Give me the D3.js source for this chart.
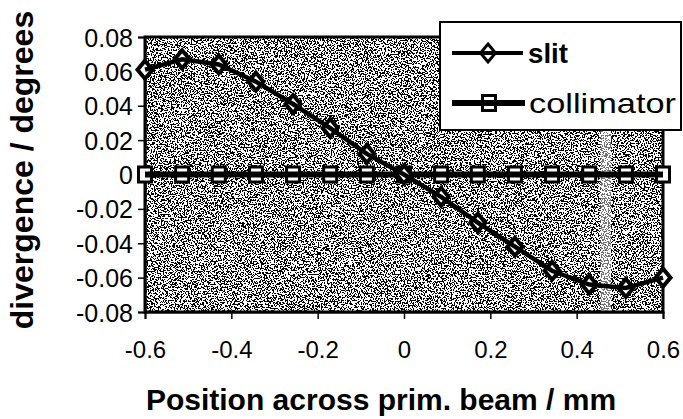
<!DOCTYPE html>
<html>
<head>
<meta charset="utf-8">
<script src="https://cdn.jsdelivr.net/npm/d3@7"></script>
<style>
  html, body { margin: 0; padding: 0; background: #fff; }
  svg { display: block; }
  text { font-family: "Liberation Sans", Arial, Helvetica, sans-serif; fill: #000; }
</style>
</head>
<body>
<svg id="chart" width="683" height="419"></svg>
<script>
// ---- data ----
const positions = [-0.6, -0.514, -0.429, -0.343, -0.257, -0.171, -0.086, 0, 0.086, 0.171, 0.257, 0.343, 0.429, 0.514, 0.6];
const slit = [0.061, 0.067, 0.064, 0.054, 0.041, 0.027, 0.012, 0, -0.013, -0.028, -0.042, -0.056, -0.064, -0.066, -0.060];
const collimator = [0, 0, 0, 0, 0, 0, 0, 0, 0, 0, 0, 0, 0, 0, 0];
const seriesNames = ["slit", "collimator"];
const xTicks = [-0.6, -0.4, -0.2, 0, 0.2, 0.4, 0.6];
const yTicks = [0.08, 0.06, 0.04, 0.02, 0, -0.02, -0.04, -0.06, -0.08];
const xTitle = "Position across prim. beam / mm";
const yTitle = "divergence / degrees";

// ---- layout ----
const svg = d3.select("#chart");
const plot = { left: 145, right: 663, top: 37, bottom: 312 };
const x = d3.scaleLinear().domain([-0.6, 0.6]).range([plot.left, plot.right]);
const y = d3.scaleLinear().domain([-0.08, 0.08]).range([plot.bottom, plot.top]);

// stippled background filter (scanned halftone look)
const defs = svg.append("defs");
const f = defs.append("filter").attr("id", "stipple")
  .attr("x", 0).attr("y", 0).attr("width", "100%").attr("height", "100%")
  .attr("color-interpolation-filters", "sRGB");
f.append("feTurbulence").attr("type", "fractalNoise").attr("baseFrequency", 0.7)
  .attr("numOctaves", 2).attr("seed", 7).attr("result", "n");
f.append("feColorMatrix").attr("type", "matrix")
  .attr("values", "1 0 0 0 0  1 0 0 0 0  1 0 0 0 0  0 0 0 0 1").attr("result", "g");
const table = d3.range(100).map(i => (i < 48 ? 0 : 1)).join(" ");
const ct = f.append("feComponentTransfer").attr("in", "g");
["R", "G", "B"].forEach(c => ct.append("feFunc" + c).attr("type", "discrete").attr("tableValues", table));

svg.append("rect")
  .attr("x", plot.left).attr("y", plot.top)
  .attr("width", plot.right - plot.left).attr("height", plot.bottom - plot.top)
  .attr("fill", "#888").attr("filter", "url(#stipple)");

// light scan streak in the reference background
svg.append("rect")
  .attr("x", x(0.455)).attr("y", plot.top)
  .attr("width", x(0.48) - x(0.455)).attr("height", plot.bottom - plot.top)
  .attr("fill", "#fff").attr("opacity", 0.45);

// frame
svg.append("rect")
  .attr("x", plot.left).attr("y", plot.top)
  .attr("width", plot.right - plot.left).attr("height", plot.bottom - plot.top)
  .attr("fill", "none").attr("stroke", "#000").attr("stroke-width", 3);

// axes
const yAxis = d3.axisLeft(y).tickValues(yTicks).tickSize(7).tickPadding(5)
  .tickFormat(d => d === 0 ? "0" : d3.format(".2f")(d).replace("−", "-"));
const gy = svg.append("g").attr("transform", `translate(${plot.left},0)`).call(yAxis);
gy.select(".domain").attr("stroke-width", 2);
gy.selectAll(".tick line").attr("stroke-width", 1.5);
gy.selectAll("text").style("font-size", "25px").attr("dy", "0.36em");

const xAxis = d3.axisBottom(x).tickValues(xTicks).tickSize(7).tickPadding(22)
  .tickFormat(d => d === 0 ? "0" : d3.format(".1f")(d).replace("−", "-"));
const gx = svg.append("g").attr("transform", `translate(0,${plot.bottom})`).call(xAxis);
gx.select(".domain").attr("stroke-width", 2);
gx.selectAll(".tick line").attr("stroke-width", 1.5);
gx.selectAll("text").style("font-size", "24px");

// titles
svg.append("text").attr("x", 381).attr("y", 410)
  .attr("text-anchor", "middle").style("font-size", "30px").style("font-weight", "bold")
  .text(xTitle);
svg.append("text").attr("transform", "translate(33,170) rotate(-90)")
  .attr("text-anchor", "middle").style("font-size", "32px").style("font-weight", "bold")
  .text(yTitle);

// series
const diamond = (cx, cy, w, h) => `M${cx},${cy - h}L${cx + w},${cy}L${cx},${cy + h}L${cx - w},${cy}Z`;
const line = d3.line().x(d => x(d[0])).y(d => y(d[1]));
const collPts = positions.map((p, i) => [p, collimator[i]]);
const slitPts = positions.map((p, i) => [p, slit[i]]);

// collimator markers then line
svg.append("g").selectAll("rect").data(collPts).join("rect")
  .attr("x", d => x(d[0]) - 6.5).attr("y", d => y(d[1]) - 7.5)
  .attr("width", 13).attr("height", 15)
  .attr("fill", "#fff").attr("stroke", "#000").attr("stroke-width", 3);
svg.append("path").datum(collPts).attr("d", line)
  .attr("fill", "none").attr("stroke", "#000").attr("stroke-width", 6);

// slit markers then line
svg.append("g").selectAll("path").data(slitPts).join("path")
  .attr("d", d => diamond(x(d[0]), y(d[1]), 7.5, 9))
  .attr("fill", "#fff").attr("stroke", "#000").attr("stroke-width", 4);
svg.append("path").datum(slitPts).attr("d", line)
  .attr("fill", "none").attr("stroke", "#000").attr("stroke-width", 4.5);

// legend
const lg = svg.append("g");
lg.append("rect").attr("x", 440).attr("y", 22).attr("width", 241).attr("height", 108)
  .attr("fill", "#fff").attr("stroke", "#000").attr("stroke-width", 2);
// slit entry
lg.append("path").attr("d", diamond(488, 53, 7.5, 9))
  .attr("fill", "#fff").attr("stroke", "#000").attr("stroke-width", 3);
lg.append("line").attr("x1", 452).attr("x2", 523).attr("y1", 53).attr("y2", 53)
  .attr("stroke", "#000").attr("stroke-width", 4);
lg.append("text").attr("x", 528).attr("y", 53).attr("dy", "0.35em")
  .style("font-size", "28px").style("font-weight", "bold")
  .attr("textLength", 40).attr("lengthAdjust", "spacingAndGlyphs")
  .text(seriesNames[0]);
// collimator entry
lg.append("rect").attr("x", 489 - 6.5).attr("y", 103 - 7.5).attr("width", 13).attr("height", 15)
  .attr("fill", "#fff").attr("stroke", "#000").attr("stroke-width", 3);
lg.append("line").attr("x1", 452).attr("x2", 525).attr("y1", 103).attr("y2", 103)
  .attr("stroke", "#000").attr("stroke-width", 6);
lg.append("text").attr("x", 529).attr("y", 103).attr("dy", "0.35em")
  .style("font-size", "28px")
  .attr("textLength", 147).attr("lengthAdjust", "spacingAndGlyphs")
  .text(seriesNames[1]);
</script>
</body>
</html>
